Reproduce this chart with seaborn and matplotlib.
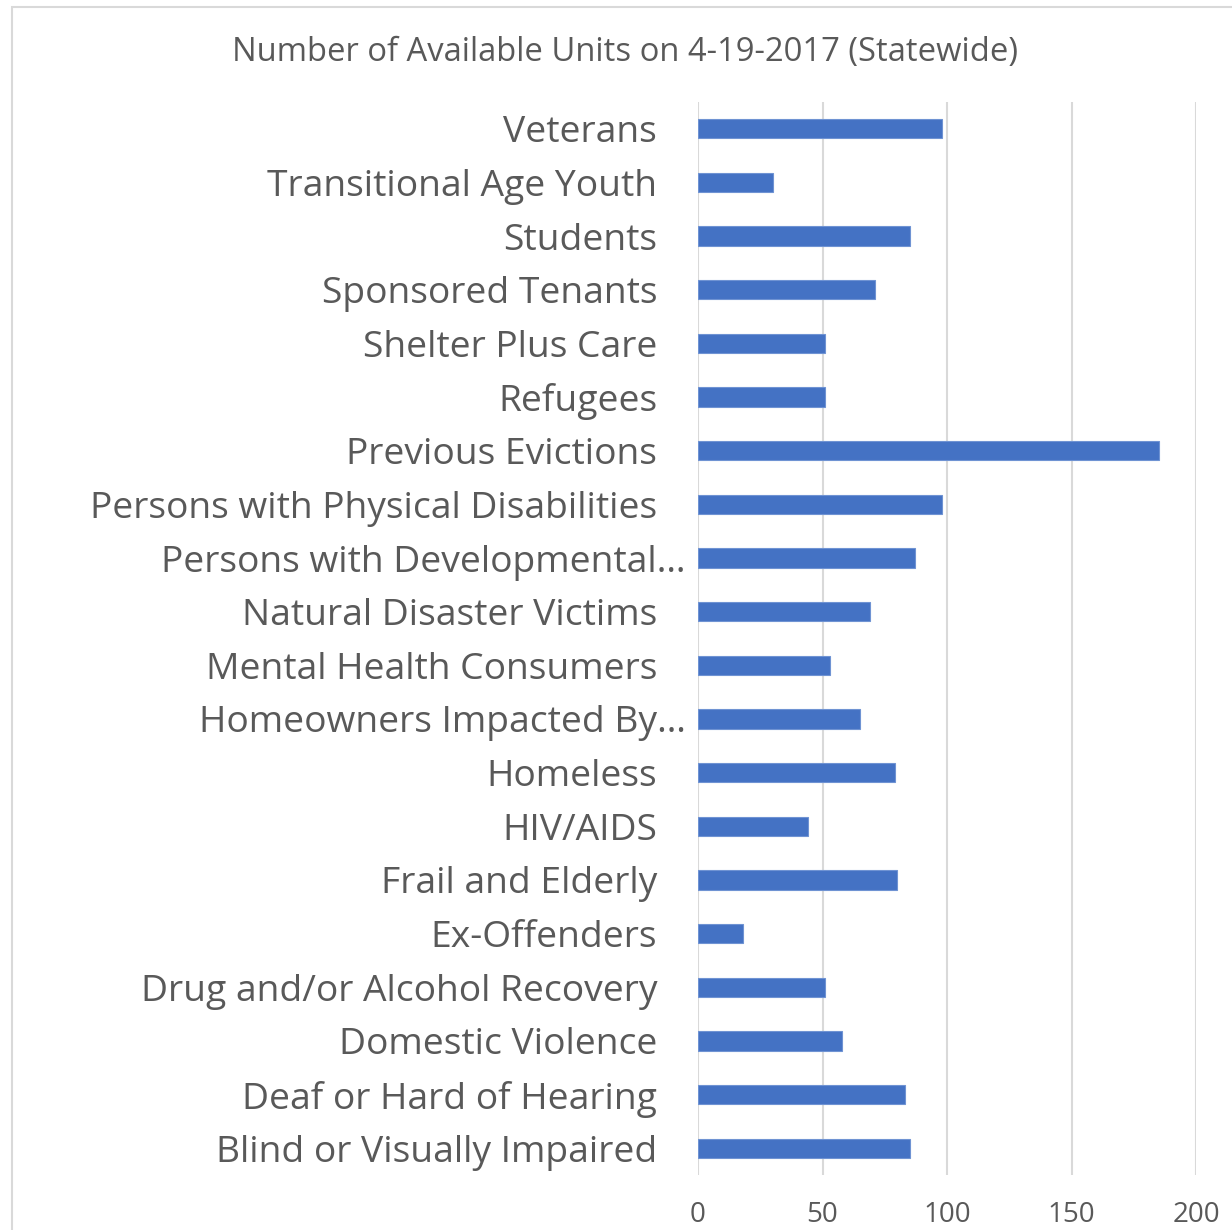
import matplotlib
matplotlib.use("Agg")
import matplotlib.pyplot as plt
import seaborn as sns
import pandas as pd
from matplotlib.patches import Rectangle
from matplotlib.transforms import ScaledTranslation

categories = [
    "Veterans", "Transitional Age Youth", "Students", "Sponsored Tenants",
    "Shelter Plus Care", "Refugees", "Previous Evictions",
    "Persons with Physical Disabilities", "Persons with Developmental…",
    "Natural Disaster Victims", "Mental Health Consumers",
    "Homeowners Impacted By…", "Homeless", "HIV/AIDS", "Frail and Elderly",
    "Ex-Offenders", "Drug and/or Alcohol Recovery", "Domestic Violence",
    "Deaf or Hard of Hearing", "Blind or Visually Impaired",
]
units = [98, 30, 85, 71, 51, 51, 185, 98, 87, 69, 53, 65, 79, 44, 80, 18, 51, 58, 83, 85]
x_ticks = [0, 50, 100, 150, 200]
title = "Number of Available Units on 4-19-2017 (Statewide)"

df = pd.DataFrame({"category": categories, "units": units})

sns.set_style("white")
FONT = ["Open Sans", "DejaVu Sans"]
plt.rcParams["font.family"] = FONT
TXT = "#595959"

W, H = 1232, 1230
fig = plt.figure(figsize=(W / 100, H / 100), dpi=100)
fig.patches.append(Rectangle((12 / W, -0.1), 1.2, 1 - 7 / H + 0.1, transform=fig.transFigure,
                             fill=False, edgecolor="#D9D9D9", linewidth=1.5, zorder=0))

ax = fig.add_axes([698 / W, 1 - 1175 / H, (1196 - 698) / W, (1175 - 102) / H])
sns.barplot(data=df, x="units", y="category", orient="h", color="#4472C4",
            width=0.36, saturation=1, edgecolor="#6F93D3", linewidth=0.8, ax=ax, zorder=3)
ax.set_xlim(0, 200)
ax.set_xticks(x_ticks)
ax.set_xlabel("")
ax.set_ylabel("")
for s in ax.spines.values():
    s.set_visible(False)
ax.grid(axis="x", color="#D9D9D9", linewidth=1.5, zorder=0)
ax.grid(axis="y", visible=False)
ax.set_axisbelow(True)
ax.tick_params(axis="y", length=0, pad=29.5, labelsize=26.8, labelcolor=TXT)
ax.tick_params(axis="x", length=0, pad=18.5, labelsize=20, labelcolor=TXT)

# truncated labels extend further right (ellipsis)
for lab in ax.get_yticklabels():
    if lab.get_text().endswith("…"):
        lab.set_transform(lab.get_transform() + ScaledTranslation(29 / 100, 0, fig.dpi_scale_trans))

fig.text(625 / W, 1 - 52 / H, title, ha="center", va="center", fontsize=23.6, color=TXT)

fig.savefig("out.png", dpi=100)
